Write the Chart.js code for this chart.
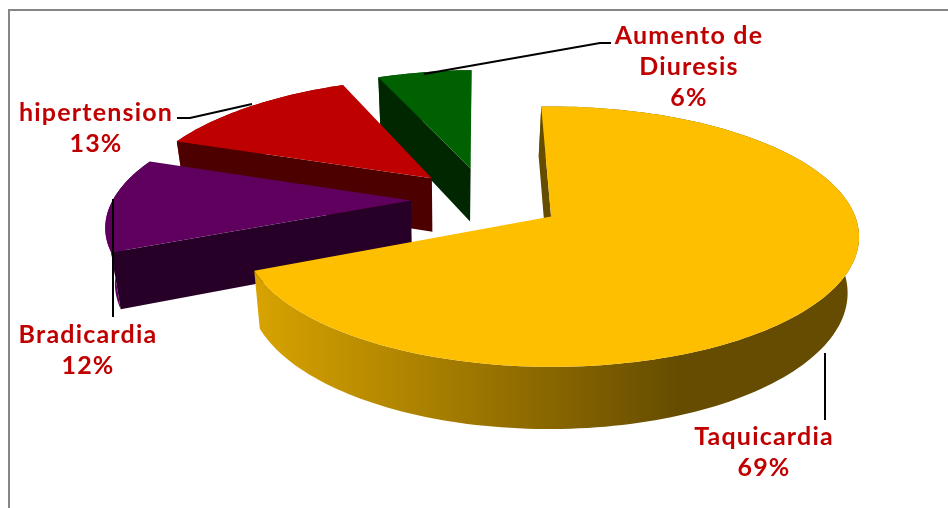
<!DOCTYPE html>
<html>
<head>
<meta charset="utf-8">
<title>Taquicardia</title>
<style>
  html, body { margin: 0; padding: 0; background: #fff; overflow: hidden; }
  #wrap { position: relative; width: 948px; height: 508px; overflow: hidden; }
  #frame { position: absolute; left: 8px; top: 9px; width: 960px; height: 520px; border: 2px solid #868686; }
  #myChart { position: absolute; left: 0; top: 0; }
</style>
</head>
<body>
<div id="wrap">
  <div id="frame"></div>
  <canvas id="myChart" width="948" height="508"></canvas>
</div>
<script src="https://cdn.jsdelivr.net/npm/chart.js@4"></script>
<script>
var categories = ['Taquicardia', 'Bradicardia', 'hipertension', 'Aumento de\nDiuresis'];
var percents = [69, 12, 13, 6];
var colors = ['#FDBF00', '#5F005F', '#BE0000', '#006100'];
var explode = [26, 25, 26, 27];

// where each label sits (centre x, first line y) and its leader line
var labelPos = [[764, 437], [88, 335], [96, 113], [689, 36]];
var leaders = [
    [[825, 353], [825, 420]],
    [[113, 199], [113, 317]],
    [[177, 118], [190, 118], [252, 104]],
    [[611, 43], [600, 43], [424, 74]]
];

// tilted disc: radius-1 pie coordinates to canvas pixels
function project(u, v) {
    var U = u - 0.205, V = v - 0.134;
    var w = 1 - 0.154 * V;
    return [546.5 + 304 * U / w, 216 + 126.9 * V / w];
}

// same point on the underside of the pie
function lower(pt) {
    return [pt[0] + (450 - pt[0]) * 0.028, pt[1] * 1.047 + 45];
}

function shade(hex, k) {
    var n = parseInt(hex.slice(1), 16);
    return 'rgb(' + Math.round((n >> 16) * k) + ',' + Math.round(((n >> 8) & 255) * k) + ',' + Math.round((n & 255) * k) + ')';
}

function fillPoly(ctx, pts, style) {
    ctx.beginPath();
    pts.forEach(function(p, i) {
        if (i == 0) ctx.moveTo(p[0], p[1]); else ctx.lineTo(p[0], p[1]);
    });
    ctx.closePath();
    ctx.fillStyle = style;
    ctx.fill();
}

var pie3d = {
    id: 'pie3d',
    beforeDatasetDraw: function(chart, args) {
        var ctx = chart.ctx;
        var arcs = args.meta.data;
        ctx.save();
        // back slices first, the big one goes on top
        for (var i = arcs.length - 1; i >= 0; i--) {
            var a = arcs[i];
            var mid = (a.startAngle + a.endAngle) / 2;
            var shift = a.options.offset / 100;
            var ox = Math.cos(mid) * shift, oy = Math.sin(mid) * shift;
            var rim = [];
            var steps = Math.ceil((a.endAngle - a.startAngle) * 40);
            for (var s = 0; s <= steps; s++) {
                var t = a.startAngle + (a.endAngle - a.startAngle) * s / steps;
                rim.push(project(ox + Math.cos(t), oy + Math.sin(t)));
            }
            var apex = project(ox, oy);
            var dark = shade(colors[i], 0.4);

            var grad = ctx.createLinearGradient(120, 0, 680, 0);
            grad.addColorStop(0, colors[i]);
            grad.addColorStop(1, dark);
            fillPoly(ctx, rim.concat(rim.map(lower).reverse()), grad);

            // cut faces are only seen when they turn towards the viewer
            var first = rim[0], last = rim[rim.length - 1];
            if (Math.cos(a.endAngle) > 0) fillPoly(ctx, [apex, last, lower(last), lower(apex)], dark);
            if (Math.cos(a.startAngle) < 0) fillPoly(ctx, [apex, first, lower(first), lower(apex)], dark);
            fillPoly(ctx, [apex].concat(rim), colors[i]);
        }
        ctx.restore();
        return false;
    },
    afterDraw: function(chart) {
        var ctx = chart.ctx;
        ctx.save();
        ctx.strokeStyle = '#000';
        ctx.lineWidth = 2;
        leaders.forEach(function(line) {
            ctx.beginPath();
            line.forEach(function(p, i) {
                if (i == 0) ctx.moveTo(p[0], p[1]); else ctx.lineTo(p[0], p[1]);
            });
            ctx.stroke();
        });
        ctx.fillStyle = '#C00000';
        ctx.font = 'bold 25px Lato';
        ctx.textAlign = 'center';
        ctx.textBaseline = 'middle';
        ctx.letterSpacing = '1.2px';
        categories.forEach(function(name, i) {
            var lines = name.split('\n').concat(percents[i] + '%');
            lines.forEach(function(text, k) {
                ctx.fillText(text, labelPos[i][0], labelPos[i][1] + k * 31);
            });
        });
        ctx.restore();
    }
};

var ctx = document.getElementById('myChart').getContext('2d');
var myChart = new Chart(ctx, {
    type: 'pie',
    data: {
        labels: categories,
        datasets: [{
            data: percents,
            backgroundColor: colors,
            borderWidth: 0,
            offset: explode
        }]
    },
    options: {
        responsive: false,
        animation: false,
        rotation: -2,
        plugins: {
            legend: { display: false },
            tooltip: { enabled: false }
        }
    },
    plugins: [pie3d]
});
</script>
</body>
</html>
